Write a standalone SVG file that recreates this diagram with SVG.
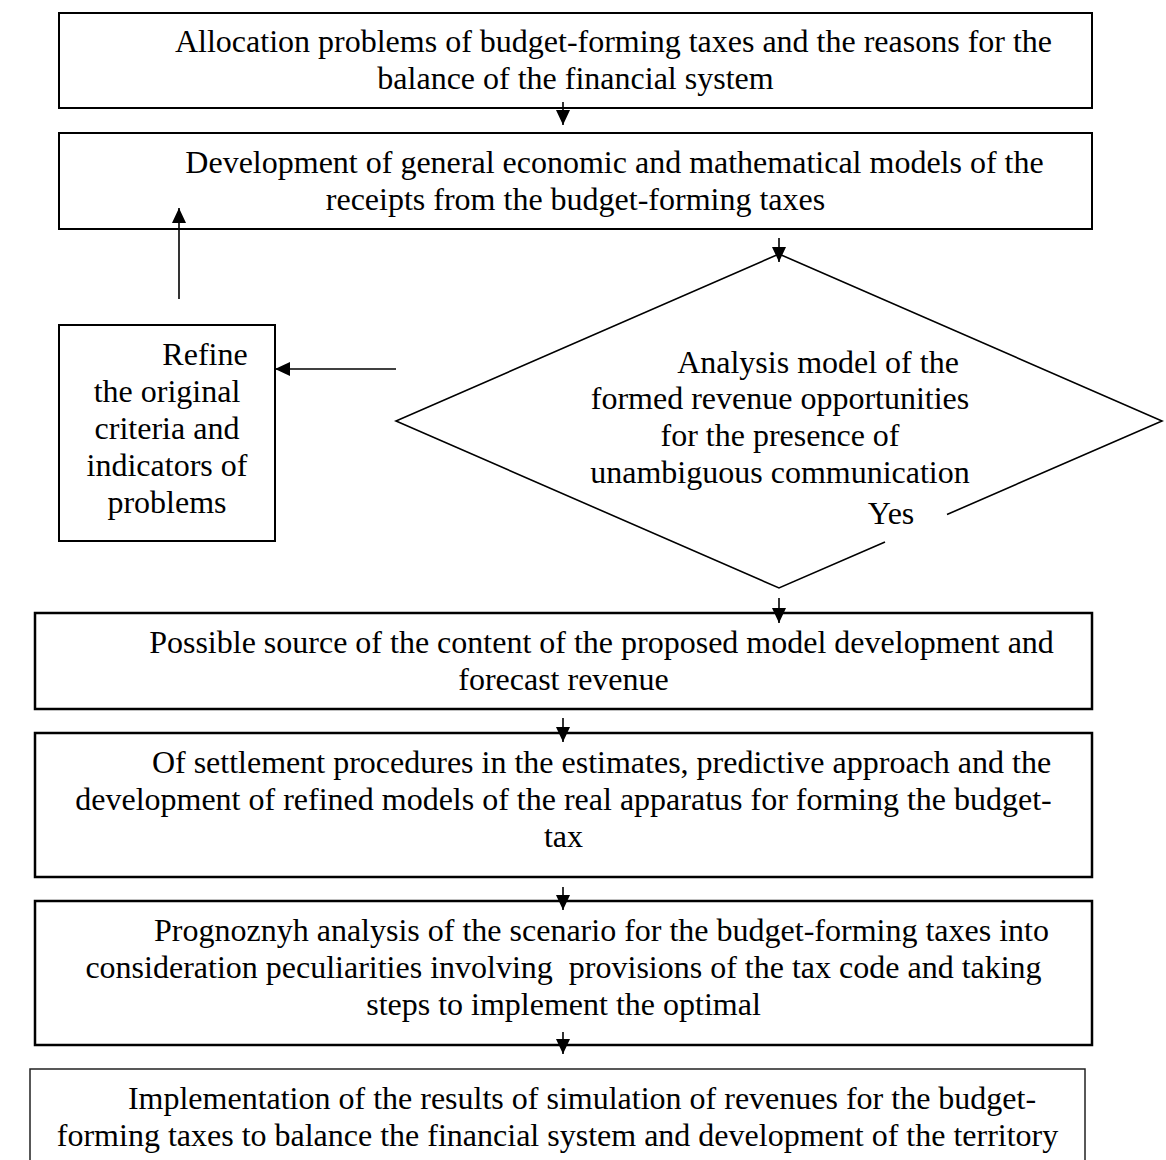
<svg xmlns="http://www.w3.org/2000/svg" width="1166" height="1160" viewBox="0 0 1166 1160">
  <defs>
    <marker id="arrowhead" viewBox="0 0 15 14" markerWidth="15" markerHeight="14" refX="15" refY="7" orient="auto" markerUnits="userSpaceOnUse">
      <path d="M0,0 L15,7 L0,14 z" fill="#000"/>
    </marker>
  </defs>
  <style>
    .box { fill: #fff; stroke: #000; stroke-width: 2; }
    .box-heavy { fill: #fff; stroke: #000; stroke-width: 2.5; }
    .box-last { fill: #fff; stroke: #222; stroke-width: 1.5; }
    .decision { fill: none; stroke: #000; stroke-width: 1.6; stroke-linejoin: miter; }
    .label { font-family: "Liberation Serif", "Times New Roman", serif; font-size: 32px; fill: #000; text-anchor: middle; }
    .conn { stroke: #000; stroke-width: 1.6; fill: none; marker-end: url(#arrowhead); }
  </style>
  <rect width="1166" height="1160" fill="#fff"/>

  <!-- Step 1 -->
  <g id="allocation-problems">
    <rect class="box" x="59" y="13" width="1033" height="95"/>
    <text class="label" x="613.5" y="52">Allocation problems of budget-forming taxes and the reasons for the</text>
    <text class="label" x="575.5" y="89">balance of the financial system</text>
  </g>

  <!-- Step 2 -->
  <g id="general-models">
    <rect class="box" x="59" y="133" width="1033" height="96"/>
    <text class="label" x="614.5" y="173">Development of general economic and mathematical models of the</text>
    <text class="label" x="575.5" y="210">receipts from the budget-forming taxes</text>
  </g>

  <!-- Decision: the lower-right edge is broken around the "Yes" label -->
  <g id="analysis-decision">
    <polyline class="decision" points="947,514.5 1162,421 779,254 396,421 779,588 885,542"/>
    <text class="label" x="818" y="373">Analysis model of the</text>
    <text class="label" x="780" y="409">formed revenue opportunities</text>
    <text class="label" x="780" y="446">for the presence of</text>
    <text class="label" x="780" y="483">unambiguous communication</text>
    <text class="label" x="891" y="524">Yes</text>
  </g>

  <!-- Feedback step -->
  <g id="refine-criteria">
    <rect class="box" x="59" y="325" width="216" height="216"/>
    <text class="label" x="205" y="365">Refine</text>
    <text class="label" x="167" y="402">the original</text>
    <text class="label" x="167" y="439">criteria and</text>
    <text class="label" x="167" y="476">indicators of</text>
    <text class="label" x="167" y="513">problems</text>
  </g>

  <!-- Step 3 -->
  <g id="possible-source">
    <rect class="box-heavy" x="35" y="613" width="1057" height="96"/>
    <text class="label" x="601.5" y="653">Possible source of the content of the proposed model development and</text>
    <text class="label" x="563.5" y="690">forecast revenue</text>
  </g>

  <!-- Step 4 -->
  <g id="settlement-procedures">
    <rect class="box-heavy" x="35" y="733" width="1057" height="144"/>
    <text class="label" x="601.5" y="773">Of settlement procedures in the estimates, predictive approach and the</text>
    <text class="label" x="563.5" y="810">development of refined models of the real apparatus for forming the budget-</text>
    <text class="label" x="563.5" y="847">tax</text>
  </g>

  <!-- Step 5 -->
  <g id="scenario-analysis">
    <rect class="box-heavy" x="35" y="901" width="1057" height="144"/>
    <text class="label" x="601.5" y="941">Prognoznyh analysis of the scenario for the budget-forming taxes into</text>
    <text class="label" x="563.5" y="978" xml:space="preserve">consideration peculiarities involving  provisions of the tax code and taking</text>
    <text class="label" x="563.5" y="1015">steps to implement the optimal</text>
  </g>

  <!-- Step 6 (runs past the bottom edge) -->
  <g id="implementation">
    <rect class="box-last" x="30" y="1069" width="1055" height="120"/>
    <text class="label" x="582" y="1109">Implementation of the results of simulation of revenues for the budget-</text>
    <text class="label" x="557.5" y="1146">forming taxes to balance the financial system and development of the territory</text>
  </g>

  <!-- Connectors -->
  <g id="connectors">
    <line class="conn" x1="563" y1="102" x2="563" y2="125"/>
    <line class="conn" x1="779" y1="238" x2="779" y2="262"/>
    <line class="conn" x1="779" y1="598" x2="779" y2="623"/>
    <line class="conn" x1="563" y1="718" x2="563" y2="742"/>
    <line class="conn" x1="563" y1="887" x2="563" y2="910"/>
    <line class="conn" x1="563" y1="1032" x2="563" y2="1054"/>
    <line class="conn" x1="396" y1="369" x2="275" y2="369"/>
    <line class="conn" x1="179" y1="299" x2="179" y2="208"/>
  </g>
</svg>
